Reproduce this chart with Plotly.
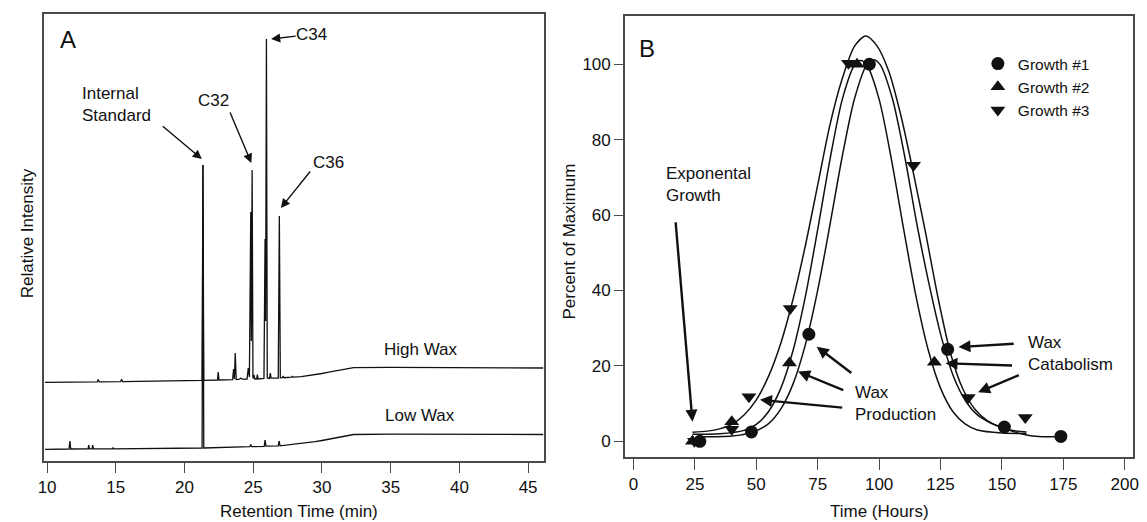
import plotly.graph_objects as go

# ---------------- Panel A: GC chromatograms (retention time, min) ----------------
high_wax_rt = [9.85, 13.65, 13.72, 13.80, 15.35, 15.42, 15.50,
               21.28, 21.34, 21.40, 22.40, 22.45, 22.51,
               23.50, 23.57, 23.63, 23.69, 23.76, 24.00, 24.10, 24.20,
               24.55, 24.64, 24.72, 24.82, 24.86, 24.92, 24.98,
               25.05, 25.12, 25.25, 25.30, 25.36,
               25.78, 25.86, 25.90, 25.96, 26.02,
               26.18, 26.24, 26.30, 26.82, 26.90, 26.97,
               27.12, 27.18, 27.24, 27.80, 27.85, 27.90,
               28.5, 29.0, 29.5, 30.0, 30.5, 31.0, 31.5, 32.0, 32.3, 35.0, 40.0, 46.1]
high_wax_signal = [78.7, 79.1, 81.5, 79.1, 79.3, 81.8, 79.3,
                   80.6, 296, 80.6, 81.0, 89.0, 81.0,
                   81.3, 92.0, 82.0, 108.0, 81.5, 81.8, 83.0, 81.8,
                   82.0, 93.0, 84.0, 249.0, 120.0, 291.0, 82.5,
                   86.0, 82.0, 82.0, 86.5, 82.0,
                   82.5, 222.0, 140.0, 422.0, 83.0,
                   82.5, 88.0, 82.8, 83.0, 245.0, 83.2,
                   83.3, 85.0, 83.3, 83.8, 85.0, 83.8,
                   84.3, 85.2, 86.3, 87.5, 88.8, 90.0, 91.4, 92.9, 93.3, 93.6, 93.4, 93.0]

low_wax_rt = [9.85, 11.60, 11.66, 11.72, 12.98, 13.03, 13.08, 13.27, 13.32, 13.37,
              14.75, 14.80, 14.85, 21.28, 21.34, 21.40,
              24.75, 24.82, 24.89, 25.80, 25.86, 25.93, 26.82, 26.88, 26.95,
              27.5, 28.5, 29.0, 29.5, 30.0, 30.5, 31.0, 31.5, 32.0, 32.3, 35.0, 40.0, 46.1]
low_wax_signal = [11.7, 12.0, 20.0, 12.0, 12.1, 16.0, 12.1, 12.1, 16.0, 12.1,
                  12.2, 13.2, 12.2, 13.0, 296, 13.0,
                  14.3, 16.5, 14.3, 14.7, 21.0, 14.8, 15.1, 20.0, 15.2,
                  16.0, 17.3, 18.2, 19.3, 20.5, 21.8, 23.0, 24.4, 25.9, 26.5, 26.8, 26.8, 26.5]

rt_ticks = [10, 15, 20, 25, 30, 35, 40, 45]

# ---------------- Panel B: wax content over the growth (percent of maximum) ----------------
growth1_hours = [27, 48, 71.4, 96, 127.9, 151, 174]
growth1_pct = [0, 2.5, 28.4, 100, 24.4, 3.8, 1.3]
growth2_hours = [24, 40, 63.5, 91, 122.5]
growth2_pct = [0, 5.2, 20.8, 100, 21]
growth3_hours = [24.8, 40, 47, 63.8, 87.5, 114, 136.3, 159.5]
growth3_pct = [0, 3.2, 11.8, 35.2, 100.3, 73.2, 11.6, 6.3]

fit1_hours = [27, 40, 48, 55, 60, 65, 70, 75, 80, 85, 90, 95, 97.7, 100.4, 105.4,
              110.4, 115.4, 120.4, 125.4, 130.4, 135.4, 140, 145, 150, 155, 160, 165, 174]
fit1_pct = [1.2, 1.4, 2.3, 4.7, 8.6, 15.3, 25.7, 40.1, 57.5, 75.6, 90.9, 99.9, 101.2, 99.9, 90.9,
            75.6, 57.5, 41.5, 27.5, 17.0, 10.5, 7.0, 5.0, 3.7, 2.5, 1.7, 1.3, 1.2]
fit2_hours = [24, 35, 45, 50, 55, 60, 65, 70, 75, 80, 85, 90, 92.5, 95, 100, 105,
              110, 115, 120, 125, 130, 135, 140, 150, 160]
fit2_pct = [1.9, 2.0, 2.9, 4.5, 7.9, 14.1, 24.2, 38.5, 56.2, 74.8, 90.7, 99.8, 101, 99.8, 90.7, 74.8,
            56.2, 38.5, 24.2, 14.1, 7.9, 4.6, 3.0, 2.2, 2.1]
fit3_hours = [24, 30, 35, 40, 45, 50, 55, 60, 65, 70, 75, 80, 85, 90, 94.5, 99, 104,
              109, 114, 119, 124, 129, 134, 139, 144, 150, 155, 160]
fit3_pct = [2.4, 2.7, 3.3, 4.5, 7.0, 11.0, 17.3, 26.1, 37.8, 52.0, 68.0, 84.0, 96.2, 104.8, 107.5,
            105.0, 98.0, 86.0, 71.0, 55.0, 38.0, 23.5, 14.0, 8.5, 5.5, 3.6, 2.8, 2.5]

hour_ticks = [0, 25, 50, 75, 100, 125, 150, 175, 200]
pct_ticks = [0, 20, 40, 60, 80, 100]

FONT = "Liberation Sans, Arial, sans-serif"
INK = "#111111"
FRAME = "#4a4a4a"

fig = go.Figure()

for rt, sig in [(high_wax_rt, high_wax_signal), (low_wax_rt, low_wax_signal)]:
    fig.add_trace(go.Scatter(x=rt, y=sig, mode="lines", xaxis="x", yaxis="y",
                             line=dict(color=INK, width=1.3), showlegend=False,
                             hoverinfo="skip"))

for hrs, pct in [(fit1_hours, fit1_pct), (fit2_hours, fit2_pct), (fit3_hours, fit3_pct)]:
    fig.add_trace(go.Scatter(x=hrs, y=pct, mode="lines", xaxis="x2", yaxis="y2",
                             line=dict(color=INK, width=1.5, shape="spline", smoothing=0.8),
                             showlegend=False, hoverinfo="skip"))

for name, hrs, pct, sym, size in [("Growth #1", growth1_hours, growth1_pct, "circle", 13),
                                  ("Growth #2", growth2_hours, growth2_pct, "triangle-up", 13),
                                  ("Growth #3", growth3_hours, growth3_pct, "triangle-down", 13)]:
    fig.add_trace(go.Scatter(x=hrs, y=pct, mode="markers", name=name, xaxis="x2", yaxis="y2",
                             marker=dict(symbol=sym, size=size, color=INK,
                                         line=dict(width=0))))

axis_common = dict(showline=True, mirror=True, linecolor=FRAME, linewidth=1.5,
                   showgrid=False, zeroline=False, ticks="outside", tickcolor=FRAME,
                   tickwidth=1.3, tickfont=dict(size=17, color=INK, family=FONT))

ann = []


def label(x, y, text, xref="x", yref="y", size=17, xanchor="center", align="center", angle=0):
    ann.append(dict(x=x, y=y, xref=xref, yref=yref, text=text, showarrow=False,
                    font=dict(size=size, color=INK, family=FONT), xanchor=xanchor,
                    yanchor="middle", align=align, textangle=angle))


def arrow(x, y, ax, ay, xref="x", yref="y", width=1.4, size=1.3):
    ann.append(dict(x=x, y=y, ax=ax, ay=ay, xref=xref, yref=yref, axref=xref, ayref=yref,
                    text="", showarrow=True, arrowhead=2, arrowsize=size, arrowwidth=width,
                    arrowcolor=INK, standoff=0, startstandoff=0))


# Panel A labels
label(11.5, 422, "A", size=24)
label(12.4, 357, "Internal<br>Standard", xanchor="left", align="left")
arrow(21.26, 302, 18.31, 336)
label(22.12, 361, "C32")
arrow(24.86, 298, 23.27, 350)
label(28.0, 427, "C34", xanchor="left")
arrow(26.3, 422, 28.2, 425)
label(30.5, 299, "C36")
arrow(27.01, 253, 29.23, 291)
label(37.2, 112, "High Wax")
label(37.1, 46, "Low Wax")
label(20.5 / 1147, 1 - 233 / 522, "Relative Intensity", xref="paper", yref="paper", angle=-90)
label(295 / 1147, 1 - 511 / 522, "Retention Time (min)", xref="paper", yref="paper")

# Panel B labels
label(5.4, 104.2, "B", xref="x2", yref="y2", size=24)
label(12.6, 68, "Exponental<br>Growth", xref="x2", yref="y2", xanchor="left", align="left")
arrow(24.0, 5.2, 17.1, 58.5, xref="x2", yref="y2", width=2.4, size=1.0)
label(89.2, 9.9, "Wax<br>Production", xref="x2", yref="y2", xanchor="left", align="left")
arrow(74.6, 25.1, 89.3, 17.8, xref="x2", yref="y2", width=2.4, size=1.0)
arrow(67.0, 18.5, 86.0, 13.4, xref="x2", yref="y2", width=2.4, size=1.0)
arrow(51.5, 11.0, 85.6, 8.9, xref="x2", yref="y2", width=2.4, size=1.0)
label(159.8, 23.4, "Wax<br>Catabolism", xref="x2", yref="y2", xanchor="left", align="left")
arrow(132.3, 25.0, 155.4, 25.9, xref="x2", yref="y2", width=2.4, size=1.0)
arrow(127.0, 20.7, 154.7, 20.1, xref="x2", yref="y2", width=2.4, size=1.0)
arrow(140.3, 13.0, 157.5, 17.7, xref="x2", yref="y2", width=2.4, size=1.0)
label(568 / 1147, 1 - 242 / 522, "Percent of Maximum", xref="paper", yref="paper", angle=-90)
label(883 / 1147, 1 - 511 / 522, "Time (Hours)", xref="paper", yref="paper")

fig.update_layout(
    width=1147, height=522, margin=dict(l=0, r=0, t=0, b=0),
    paper_bgcolor="white", plot_bgcolor="white",
    font=dict(family=FONT, color=INK, size=17),
    xaxis=dict(axis_common, domain=[37.9 / 1147, 542.8 / 1147], range=[9.81, 46.13],
               tickvals=rt_ticks, ticklen=10, anchor="y"),
    yaxis=dict(axis_common, domain=[1 - 461 / 522, 1 - 14 / 522], range=[0, 447],
               ticks="", showticklabels=False, anchor="x"),
    xaxis2=dict(axis_common, domain=[625 / 1147, 1139 / 1147], range=[-3.5, 203.4],
                tickvals=hour_ticks, ticklen=11, anchor="y2"),
    yaxis2=dict(axis_common, domain=[1 - 457 / 522, 1 - 16 / 522], range=[-4.16, 112.8],
                tickvals=pct_ticks, ticklen=9, anchor="x2"),
    legend=dict(x=982 / 1147, y=1 - 47 / 522, xanchor="left", yanchor="top",
                bgcolor="rgba(0,0,0,0)", font=dict(size=15.5, color=INK, family=FONT),
                itemwidth=30, tracegroupgap=0),
    annotations=ann,
    showlegend=True,
)

fig.write_html("out.html")
